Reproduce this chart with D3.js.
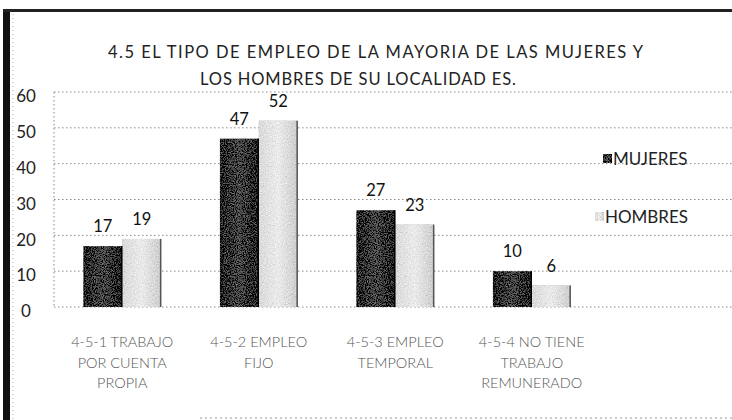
<!DOCTYPE html>
<html>
<head>
<meta charset="utf-8">
<script src="https://cdn.jsdelivr.net/npm/d3@7"></script>
<style>
  body { margin: 0; background: #fff; }
  text { font-family: Lato, "Open Sans", sans-serif; }
</style>
</head>
<body>
<div id="chart"></div>
<script>
var categories = [
  ["4-5-1 TRABAJO", "POR CUENTA", "PROPIA"],
  ["4-5-2 EMPLEO", "FIJO"],
  ["4-5-3 EMPLEO", "TEMPORAL"],
  ["4-5-4 NO TIENE", "TRABAJO", "REMUNERADO"]
];
var series = ["MUJERES", "HOMBRES"];
var mujeres = [17, 47, 27, 10];
var hombres = [19, 52, 23, 6];
var yTicks = [0, 10, 20, 30, 40, 50, 60];

var W = 732, H = 420;
var svg = d3.select("#chart").append("svg").attr("width", W).attr("height", H);

var defs = svg.append("defs");
var grain = defs.append("filter").attr("id", "grain")
    .attr("x", 0).attr("y", 0).attr("width", "100%").attr("height", "100%");
grain.append("feTurbulence").attr("type", "fractalNoise").attr("baseFrequency", 0.9)
    .attr("numOctaves", 2).attr("seed", 4).attr("result", "noise");
grain.append("feColorMatrix").attr("in", "noise").attr("type", "matrix")
    .attr("values", "0.33 0.33 0.33 0 0  0.33 0.33 0.33 0 0  0.33 0.33 0.33 0 0  0 0 0 0 1")
    .attr("result", "gray");
grain.append("feComposite").attr("in", "SourceGraphic").attr("in2", "gray")
    .attr("operator", "arithmetic").attr("k1", 0).attr("k2", 1).attr("k3", 0.8).attr("k4", -0.4)
    .attr("result", "mix");
grain.append("feComposite").attr("in", "mix").attr("in2", "SourceGraphic").attr("operator", "in");

function grad(id, stops) {
  var g = defs.append("linearGradient").attr("id", id)
      .attr("x1", 0).attr("x2", 1).attr("y1", 0).attr("y2", 0);
  stops.forEach(function(s) { g.append("stop").attr("offset", s[0]).attr("stop-color", s[1]); });
}
grad("gM", [[0, "#1e1e1e"], [0.5, "#4a4a4a"], [1, "#1a1a1a"]]);
grad("gH", [[0, "#dadada"], [0.5, "#ebebeb"], [1, "#cdcdcd"]]);
var fills = ["url(#gM)", "url(#gH)"];

// frame
svg.append("rect").attr("x", 3).attr("y", 9).attr("width", 7).attr("height", H - 9).attr("fill", "#111");
svg.append("rect").attr("x", 3).attr("y", 9).attr("width", W - 3).attr("height", 3).attr("fill", "#222");
svg.append("line").attr("x1", 13).attr("x2", 13).attr("y1", 14).attr("y2", H)
    .attr("stroke", "#aaa").attr("stroke-dasharray", "1,3");
svg.append("line").attr("x1", 200).attr("x2", W).attr("y1", 418).attr("y2", 418)
    .attr("stroke", "#999").attr("stroke-dasharray", "2,3");

// title
svg.append("text").attr("x", 108).attr("y", 58).attr("textLength", 535).attr("lengthAdjust", "spacing")
    .attr("font-size", 16.5).attr("fill", "#222").text("4.5 EL TIPO DE EMPLEO DE LA MAYORIA DE LAS MUJERES Y");
svg.append("text").attr("x", 200).attr("y", 85).attr("textLength", 316).attr("lengthAdjust", "spacing")
    .attr("font-size", 16.5).attr("fill", "#222").text("LOS HOMBRES DE SU LOCALIDAD ES.");

var x0 = d3.scaleBand().domain(d3.range(categories.length)).range([54, 600]).paddingInner(0.43).paddingOuter(0.215);
var x1 = d3.scaleBand().domain(series).range([0, x0.bandwidth()]);
var y = d3.scaleLinear().domain([0, 60]).range([307, 92]);

// grid
svg.append("g").selectAll("line").data(yTicks).join("line")
    .attr("x1", 54).attr("x2", W).attr("y1", function(d) { return y(d); }).attr("y2", function(d) { return y(d); })
    .attr("stroke", "#888").attr("stroke-width", 1).attr("stroke-dasharray", "1.5,2.5");
svg.append("line").attr("x1", 54).attr("x2", 54).attr("y1", y(60)).attr("y2", y(0))
    .attr("stroke", "#888").attr("stroke-dasharray", "1.5,2.5");

var yAxis = svg.append("g").attr("transform", "translate(26,0)")
    .call(d3.axisLeft(y).tickValues(yTicks).tickSize(0).tickPadding(0));
yAxis.select(".domain").remove();
yAxis.selectAll("text").attr("text-anchor", "middle").attr("dy", "0.75em").attr("y", -3)
    .attr("font-size", 17).attr("fill", "#222").style("font-family", "Lato, sans-serif");

// bars
var data = categories.map(function(c, i) { return [mujeres[i], hombres[i]]; });
var groups = svg.append("g").selectAll("g").data(data).join("g")
    .attr("transform", function(d, i) { return "translate(" + x0(i) + ",0)"; });
groups.selectAll("rect").data(function(d) { return d; }).join("rect")
    .attr("x", function(d, j) { return x1(series[j]); })
    .attr("y", function(d) { return y(d); })
    .attr("width", x1.bandwidth())
    .attr("height", function(d) { return y(0) - y(d); })
    .attr("fill", function(d, j) { return fills[j]; })
    .attr("filter", "url(#grain)");
groups.selectAll("line.edge").data(function(d) { return d; }).join("line").attr("class", "edge")
    .attr("x1", function(d, j) { return x1(series[j]) + x1.bandwidth() - 0.5; })
    .attr("x2", function(d, j) { return x1(series[j]) + x1.bandwidth() - 0.5; })
    .attr("y1", function(d) { return y(d); }).attr("y2", y(0))
    .attr("stroke", function(d, j) { return j ? "#555" : "#000"; }).attr("stroke-width", 1.5);
groups.selectAll("text.val").data(function(d) { return d; }).join("text").attr("class", "val")
    .attr("x", function(d, j) { return x1(series[j]) + x1.bandwidth() / 2; })
    .attr("y", function(d) { return y(d) - 14; })
    .attr("text-anchor", "middle").attr("font-size", 16.5).attr("fill", "#111")
    .text(function(d) { return d; });

// category labels
var labs = svg.append("g").selectAll("text").data(categories).join("text")
    .attr("x", function(d, i) { return x0(i) + x0.bandwidth() / 2; })
    .attr("text-anchor", "middle").attr("font-size", 14.5).attr("fill", "#555")
    .attr("font-weight", 300);
labs.selectAll("tspan").data(function(d) { return d; }).join("tspan")
    .attr("x", function() { return d3.select(this.parentNode).attr("x"); })
    .attr("y", function(d, k) { return 347 + k * 20.5; })
    .text(function(d) { return d; });

// legend
var legX = [603, 595], legY = [159, 217];
var leg = svg.append("g").selectAll("g").data(series).join("g")
    .attr("transform", function(d, i) { return "translate(" + legX[i] + "," + legY[i] + ")"; });
leg.append("rect").attr("x", 0).attr("y", -5).attr("width", 9).attr("height", 9)
    .attr("fill", function(d, i) { return fills[i]; }).attr("filter", "url(#grain)");
leg.append("text").attr("x", 10).attr("y", 6).attr("font-size", 17).attr("fill", "#222")
    .text(function(d) { return d; });
</script>
</body>
</html>
